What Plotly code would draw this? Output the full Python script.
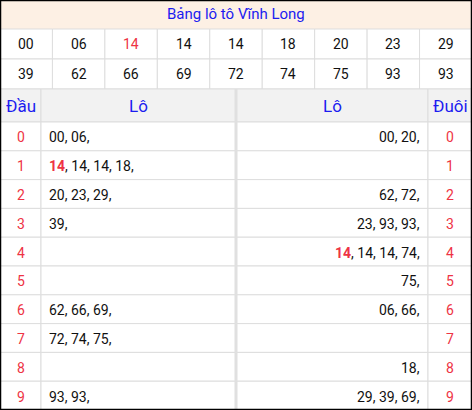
import plotly.graph_objects as go

title = "Bảng lô tô Vĩnh Long"
row1 = ["00", "06", "14", "14", "14", "18", "20", "23", "29"]
row2 = ["39", "62", "66", "69", "72", "74", "75", "93", "93"]
special = "14"
digits = [str(i) for i in range(10)]
dau = [["00", "06"], ["14", "14", "14", "18"], ["20", "23", "29"], ["39"], [], [],
       ["62", "66", "69"], ["72", "74", "75"], [], ["93", "93"]]
duoi = [["00", "20"], [], ["62", "72"], ["23", "93", "93"], ["14", "14", "14", "74"], ["75"],
        ["06", "66"], [], ["18"], ["29", "39", "69"]]

W, H = 472, 410
BLUE = "#1c1cf0"
RED = "#ee3344"
GRID = "#dddddd"
F = "Roboto"
shapes, ann = [], []

def rect(x0, y0, x1, y1, fill=None, line=GRID, lw=1):
    shapes.append(dict(type="rect", x0=x0, y0=y0, x1=x1, y1=y1, layer="below",
                       fillcolor=fill or "rgba(0,0,0,0)", line=dict(color=line, width=lw)))

def text(x, y, s, color="#111", size=14, xanchor="center"):
    ann.append(dict(x=x, y=y, text=s, showarrow=False, xanchor=xanchor, yanchor="middle",
                    font=dict(family=F, size=size, color=color)))

def fmt(lst, first_special):
    parts = []
    for i, v in enumerate(lst):
        if i == 0 and first_special and v == special:
            parts.append(f"<b><span style='color:{RED}'>{v}</span></b>")
        else:
            parts.append(v)
    return "".join(p + ", " for p in parts).rstrip()

# title
rect(0, 0, W, 29, fill="#fdf0e4", line="#fdf0e4")
text(W / 2, 14, title, BLUE, 15)
cw = W / 9
first_sp = True
for r, row in enumerate([row1, row2]):
    y0 = 29 + r * 30
    for c, v in enumerate(row):
        rect(c * cw, y0, (c + 1) * cw, y0 + 30, fill="white")
        col = "#111"
        if v == special and first_sp:
            col = RED
            first_sp = False
        text(c * cw + cw / 2, y0 + 15, v, col, 14)

# header
cols = [0, 41, 236, 428, W]
hy0, hy1 = 89, 122
for i in range(4):
    rect(cols[i], hy0, cols[i + 1], hy1, fill="#f2f2f2")
for i, s in enumerate(["Đầu", "Lô", "Lô", "Đuôi"]):
    text((cols[i] + cols[i + 1]) / 2, (hy0 + hy1) / 2, s, BLUE, 17)

rh = (H - 122) / 10
for i, d in enumerate(digits):
    y0 = 122 + i * rh
    for k in range(4):
        rect(cols[k], y0, cols[k + 1], y0 + rh, fill="white")
    yc = y0 + rh / 2 + 1
    text(20.5, yc, d, RED, 14)
    text(W - 22, yc, d, RED, 14)
    if dau[i]:
        text(47, yc, fmt(dau[i], True), "#111", 14, "left")
    if duoi[i]:
        text(422, yc, fmt(duoi[i], True), "#111", 14, "right")

shapes.append(dict(type="line", x0=236, x1=236, y0=89, y1=H, line=dict(color="#e0e0e0", width=3)))
shapes.append(dict(type="rect", x0=0.5, y0=0.5, x1=W - 0.5, y1=H - 0.5, line=dict(color="black", width=1.5)))

fig = go.Figure()
fig.update_layout(width=W, height=H, margin=dict(l=0, r=0, t=0, b=0),
                  paper_bgcolor="white", plot_bgcolor="white",
                  xaxis=dict(range=[0, W], visible=False, fixedrange=True),
                  yaxis=dict(range=[H, 0], visible=False, fixedrange=True),
                  shapes=shapes, annotations=ann, showlegend=False)
fig.write_html("out.html", config={"displayModeBar": False},
               post_script="document.body.style.margin='0';document.body.style.overflow='hidden';")
